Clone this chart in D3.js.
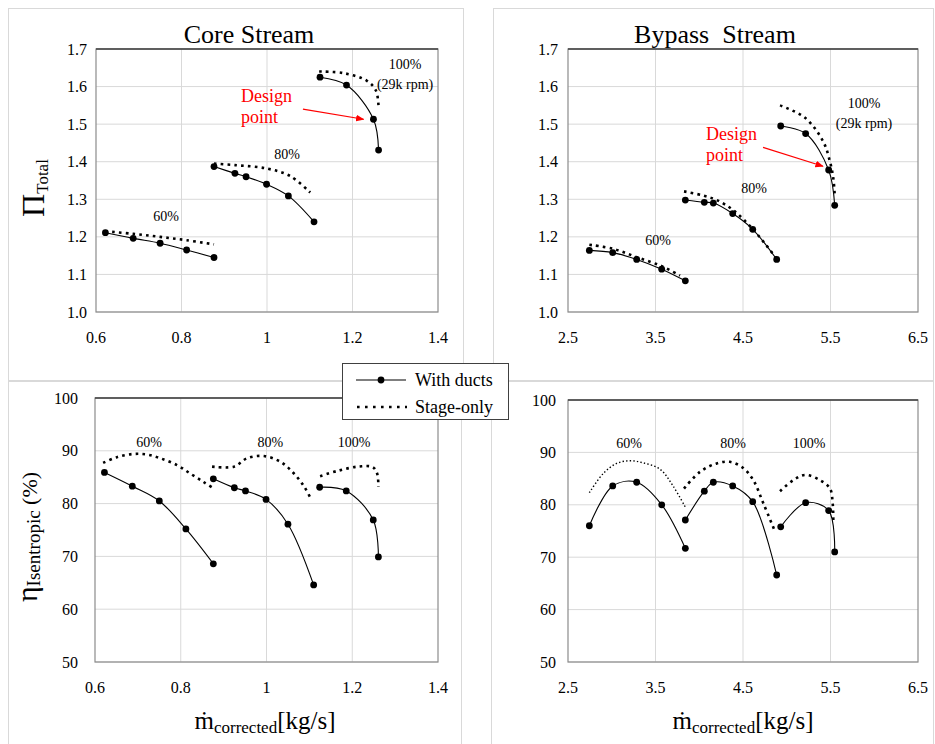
<!DOCTYPE html>
<html>
<head>
<meta charset="utf-8">
<script src="https://cdn.jsdelivr.net/npm/d3@7"></script>
<style>
body { margin: 0; background: #fff; }
text { font-family: "Liberation Serif", "Times New Roman", serif; fill: #000; }
</style>
</head>
<body>
<div id="chart"></div>
<script>
/* global d3*/

//---------------------Data

const speeds = ["60%", "80%", "100%"]

// core stream, with ducts (same mass flow points for PR and efficiency)
const coreMassDucts = [[0.622, 0.687, 0.750, 0.812, 0.876], [0.876, 0.925, 0.951, 0.999, 1.050, 1.110], [1.124, 1.186, 1.249, 1.261]]
const corePRDucts = [[1.211, 1.196, 1.183, 1.165, 1.145], [1.387, 1.369, 1.360, 1.340, 1.309, 1.240], [1.625, 1.604, 1.513, 1.431]]
const coreEffDucts = [[85.9, 83.3, 80.5, 75.2, 68.6], [84.7, 83.0, 82.4, 80.8, 76.1, 64.6], [83.1, 82.4, 76.9, 69.9]]

// core stream, stage-only
const coreMassStagePR = [[0.622, 0.687, 0.750, 0.812, 0.876], [0.876, 0.925, 0.999, 1.054, 1.101], [1.122, 1.178, 1.233, 1.255, 1.261]]
const corePRStage = [[1.215, 1.208, 1.200, 1.191, 1.180], [1.395, 1.391, 1.382, 1.362, 1.318], [1.640, 1.636, 1.616, 1.589, 1.544]]
const coreMassStageEff = [[0.619, 0.651, 0.690, 0.721, 0.752, 0.791, 0.822, 0.853, 0.876], [0.873, 0.924, 0.955, 0.994, 1.033, 1.064, 1.088, 1.103], [1.125, 1.166, 1.213, 1.248, 1.258, 1.261]]
const coreEffStage = [[87.7, 88.8, 89.4, 89.3, 88.6, 87.3, 85.7, 84.1, 82.9], [87.0, 87.0, 88.6, 89.0, 87.9, 85.7, 83.2, 81.0], [85.2, 86.2, 87.0, 86.9, 85.7, 83.2]]

// bypass stream, with ducts
const bypassMassDucts = [[2.744, 3.011, 3.285, 3.571, 3.841], [3.841, 4.058, 4.161, 4.382, 4.611, 4.885], [4.931, 5.216, 5.479, 5.548]]
const bypassPRDucts = [[1.164, 1.158, 1.140, 1.114, 1.083], [1.298, 1.292, 1.290, 1.262, 1.220, 1.140], [1.495, 1.475, 1.378, 1.284]]
const bypassEffDucts = [[76.0, 83.6, 84.3, 80.0, 71.7], [77.1, 82.6, 84.3, 83.6, 80.6, 66.6], [75.8, 80.4, 78.9, 71.0]]

// bypass stream, stage-only
const bypassMassStagePR = [[2.744, 3.018, 3.285, 3.571, 3.780], [3.826, 4.046, 4.199, 4.389, 4.618, 4.885], [4.923, 5.209, 5.418, 5.494, 5.532, 5.548]]
const bypassPRStage = [[1.179, 1.168, 1.146, 1.122, 1.097], [1.321, 1.310, 1.298, 1.271, 1.219, 1.142], [1.550, 1.517, 1.453, 1.400, 1.356, 1.312]]
const bypassMassStageEff = [[2.744, 2.904, 3.056, 3.209, 3.361, 3.551, 3.704, 3.849], [3.826, 4.009, 4.199, 4.351, 4.504, 4.618, 4.732, 4.866], [4.923, 5.075, 5.209, 5.380, 5.494, 5.525, 5.532]]
const bypassEffStage = [[82.3, 86.0, 87.9, 88.4, 88.0, 86.8, 83.5, 79.3], [83.1, 86.3, 87.9, 88.2, 87.0, 84.7, 80.3, 74.9], [82.6, 84.7, 85.7, 84.7, 83.1, 80.3, 77.1]]

//---------------------Tick labels

const prTicks = [1.0, 1.1, 1.2, 1.3, 1.4, 1.5, 1.6, 1.7]
const effTicks = [50, 60, 70, 80, 90, 100]
const coreMassTicks = [0.6, 0.8, 1, 1.2, 1.4]
const bypassMassTicks = [2.5, 3.5, 4.5, 5.5, 6.5]

//---------------------Annotation positions (data units)

const corePRLabels = [[0.764, 1.241], [1.047, 1.407], [1.323, 1.647]]
const bypassPRLabels = [[3.529, 1.179], [4.626, 1.317], [5.883, 1.544]]
const coreEffLabels = [[0.726, 90.7], [1.009, 90.7], [1.204, 90.7]]
const bypassEffLabels = [[3.197, 90.8], [4.386, 90.8], [5.254, 90.8]]

//-----------------------Dimensions

const dimensions = { width: 935, height: 744 }

const panels = [
  {
    box: [8, 8, 463, 380], plot: [96, 49, 438, 312], gap: 9,
    xDomain: [0.6, 1.4], xTicks: coreMassTicks, xFmt: d => String(d),
    yDomain: [1.0, 1.7], yTicks: prTicks, yFmt: d3.format(".1f"),
    ducts: [coreMassDucts, corePRDucts], stage: [coreMassStagePR, corePRStage],
    labels: corePRLabels, title: "Core Stream", titleX: 249,
    rpm: [1.323, 1.593], design: [0.939, 1.559, 1.503], arrow: [1.084, 1.540, 1.226, 1.513]
  },
  {
    box: [493, 8, 933, 380], plot: [568, 49, 918, 312], gap: 10,
    xDomain: [2.5, 6.5], xTicks: bypassMassTicks, xFmt: d3.format(".1f"),
    yDomain: [1.0, 1.7], yTicks: prTicks, yFmt: d3.format(".1f"),
    ducts: [bypassMassDucts, bypassPRDucts], stage: [bypassMassStagePR, bypassPRStage],
    labels: bypassPRLabels, title: "Bypass  Stream", titleX: 715,
    rpm: [5.883, 1.491], design: [4.077, 1.459, 1.401], arrow: [4.729, 1.438, 5.414, 1.388]
  },
  {
    box: [8, 381, 461, 750], plot: [95, 398, 438, 662], gap: 17,
    xDomain: [0.6, 1.4], xTicks: coreMassTicks, xFmt: d => String(d),
    yDomain: [50, 100], yTicks: effTicks, yFmt: d => String(d),
    ducts: [coreMassDucts, coreEffDucts], stage: [coreMassStageEff, coreEffStage],
    labels: coreEffLabels, xTitleX: 265
  },
  {
    box: [491, 381, 933, 750], plot: [568, 400, 918, 662], gap: 12,
    xDomain: [2.5, 6.5], xTicks: bypassMassTicks, xFmt: d3.format(".1f"),
    yDomain: [50, 100], yTicks: effTicks, yFmt: d => String(d),
    ducts: [bypassMassDucts, bypassEffDucts], stage: [bypassMassStageEff, bypassEffStage],
    labels: bypassEffLabels, xTitleX: 743, thinFirst: true
  }
]

//-----------------------Create svg

const svg = d3.select("#chart")
  .append("svg")
  .attr("width", dimensions.width)
  .attr("height", dimensions.height)

svg.append("defs").append("marker")
  .attr("id", "redArrow")
  .attr("viewBox", "0 0 10 10")
  .attr("refX", 9).attr("refY", 5)
  .attr("markerWidth", 7).attr("markerHeight", 7)
  .attr("orient", "auto")
  .append("path")
  .attr("d", "M0,1 L10,5 L0,9 z")
  .attr("fill", "#ff0000")

const lineGenerator = d3.line()
  .curve(d3.curveCatmullRom.alpha(0.5))

//-----------------------Draw each panel

panels.forEach(p => {
  const [bx0, by0, bx1, by1] = p.box
  const [px0, py0, px1, py1] = p.plot

  // chart container outline
  svg.append("rect")
    .attr("x", bx0 + 0.5).attr("y", by0 + 0.5)
    .attr("width", bx1 - bx0).attr("height", by1 - by0)
    .attr("fill", "none")
    .attr("stroke", "#d9d9d9")

  const xScale = d3.scaleLinear().domain(p.xDomain).range([px0, px1])
  const yScale = d3.scaleLinear().domain(p.yDomain).range([py1, py0])

  const ctr = svg.append("g")

  // gridlines
  ctr.selectAll(".vgrid")
    .data(p.xTicks.slice(1, -1))
    .join("line")
    .attr("x1", d => xScale(d)).attr("x2", d => xScale(d))
    .attr("y1", py0).attr("y2", py1)
    .attr("stroke", "#d9d9d9")

  ctr.selectAll(".hgrid")
    .data(p.yTicks.slice(0, -1))
    .join("line")
    .attr("x1", px0).attr("x2", px1)
    .attr("y1", d => yScale(d)).attr("y2", d => yScale(d))
    .attr("stroke", "#d9d9d9")

  // plot area border
  ctr.append("rect")
    .attr("x", px0).attr("y", py0)
    .attr("width", px1 - px0).attr("height", py1 - py0)
    .attr("fill", "none")
    .attr("stroke", "#8c8c8c")
    .attr("stroke-width", 1.2)

  ctr.append("line")
    .attr("x1", px0).attr("x2", px1)
    .attr("y1", py0).attr("y2", py0)
    .attr("stroke", "#404040")
    .attr("stroke-width", 1.6)

  // tick labels
  ctr.selectAll(".xlab")
    .data(p.xTicks)
    .join("text")
    .attr("x", d => xScale(d))
    .attr("y", py1 + 31)
    .attr("text-anchor", "middle")
    .style("font-size", "16px")
    .text(p.xFmt)

  ctr.selectAll(".ylab")
    .data(p.yTicks)
    .join("text")
    .attr("x", px0 - p.gap)
    .attr("y", d => yScale(d))
    .attr("dy", "0.35em")
    .attr("text-anchor", "end")
    .style("font-size", "16px")
    .text(p.yFmt)

  // stage-only curves (dotted)
  p.stage[0].forEach((xs, i) => {
    const pts = xs.map((x, j) => [xScale(x), yScale(p.stage[1][i][j])])
    const thin = p.thinFirst && i === 0
    ctr.append("path")
      .attr("d", lineGenerator(pts))
      .attr("fill", "none")
      .attr("stroke", "#000")
      .attr("stroke-width", thin ? 1.4 : 2.6)
      .style("stroke-dasharray", thin ? "1.4,2.2" : "2.6,4.2")
  })

  // with ducts curves (solid + dots)
  p.ducts[0].forEach((xs, i) => {
    const pts = xs.map((x, j) => [xScale(x), yScale(p.ducts[1][i][j])])
    ctr.append("path")
      .attr("d", lineGenerator(pts))
      .attr("fill", "none")
      .attr("stroke", "#000")
      .attr("stroke-width", 1.1)

    ctr.selectAll(null)
      .data(pts)
      .join("circle")
      .attr("cx", d => d[0])
      .attr("cy", d => d[1])
      .attr("r", 3.4)
      .attr("fill", "#000")
  })

  // speed labels
  ctr.selectAll(".spd")
    .data(p.labels)
    .join("text")
    .attr("x", d => xScale(d[0]))
    .attr("y", d => yScale(d[1]))
    .attr("text-anchor", "middle")
    .style("font-size", "14px")
    .text((d, i) => speeds[i])

  if (p.rpm) {
    ctr.append("text")
      .attr("x", xScale(p.rpm[0]))
      .attr("y", yScale(p.rpm[1]))
      .attr("text-anchor", "middle")
      .style("font-size", "14px")
      .text("(29k rpm)")
  }

  // design point callout
  if (p.design) {
    ctr.append("text")
      .attr("x", xScale(p.design[0]))
      .attr("y", yScale(p.design[1]))
      .style("font-size", "18px")
      .style("fill", "#ff0000")
      .text("Design")
    ctr.append("text")
      .attr("x", xScale(p.design[0]))
      .attr("y", yScale(p.design[2]))
      .style("font-size", "18px")
      .style("fill", "#ff0000")
      .text("point")
    ctr.append("line")
      .attr("x1", xScale(p.arrow[0])).attr("y1", yScale(p.arrow[1]))
      .attr("x2", xScale(p.arrow[2])).attr("y2", yScale(p.arrow[3]))
      .attr("stroke", "#ff0000")
      .attr("stroke-width", 1.2)
      .attr("marker-end", "url(#redArrow)")
  }

  // panel title
  if (p.title) {
    svg.append("text")
      .attr("x", p.titleX)
      .attr("y", 43)
      .attr("text-anchor", "middle")
      .style("font-size", "26px")
      .style("white-space", "pre")
      .text(p.title)
  }

  // x axis title
  if (p.xTitleX) {
    const t = svg.append("text")
      .attr("x", p.xTitleX)
      .attr("y", 729)
      .attr("text-anchor", "middle")
      .style("font-size", "25px")
    t.append("tspan").text("ṁ")
    t.append("tspan").attr("dy", 4).style("font-size", "17px").text("corrected")
    t.append("tspan").attr("dy", -4).text("[kg/s]")
  }
})

//------------------Y axis titles

const piTitle = svg.append("text")
  .attr("transform", "translate(44,188) rotate(-90)")
  .attr("text-anchor", "middle")
  .style("font-size", "32px")
piTitle.append("tspan").text("Π")
piTitle.append("tspan").attr("dy", 4).style("font-size", "17px").text("Total")

const etaTitle = svg.append("text")
  .attr("transform", "translate(37,537) rotate(-90)")
  .attr("text-anchor", "middle")
  .style("font-size", "30px")
etaTitle.append("tspan").text("η")
etaTitle.append("tspan").attr("dy", 3).style("font-size", "19px").text("Isentropic")
etaTitle.append("tspan").attr("dy", -3).style("font-size", "22px").text(" (%)")

//------------------Legend

const legend = svg.append("g")

legend.append("rect")
  .attr("x", 342.5).attr("y", 363.5)
  .attr("width", 166).attr("height", 56)
  .attr("fill", "#fff")
  .attr("stroke", "#404040")

legend.append("line")
  .attr("x1", 356).attr("x2", 406)
  .attr("y1", 380).attr("y2", 380)
  .attr("stroke", "#000").attr("stroke-width", 1.1)

legend.append("circle")
  .attr("cx", 381).attr("cy", 380).attr("r", 3.4)

legend.append("line")
  .attr("x1", 357).attr("x2", 407)
  .attr("y1", 407).attr("y2", 407)
  .attr("stroke", "#000").attr("stroke-width", 2.6)
  .style("stroke-dasharray", "2.6,5.4")

legend.append("text")
  .attr("x", 415).attr("y", 386)
  .style("font-size", "18px")
  .text("With ducts")

legend.append("text")
  .attr("x", 415).attr("y", 413)
  .style("font-size", "18px")
  .text("Stage-only")
</script>
</body>
</html>
